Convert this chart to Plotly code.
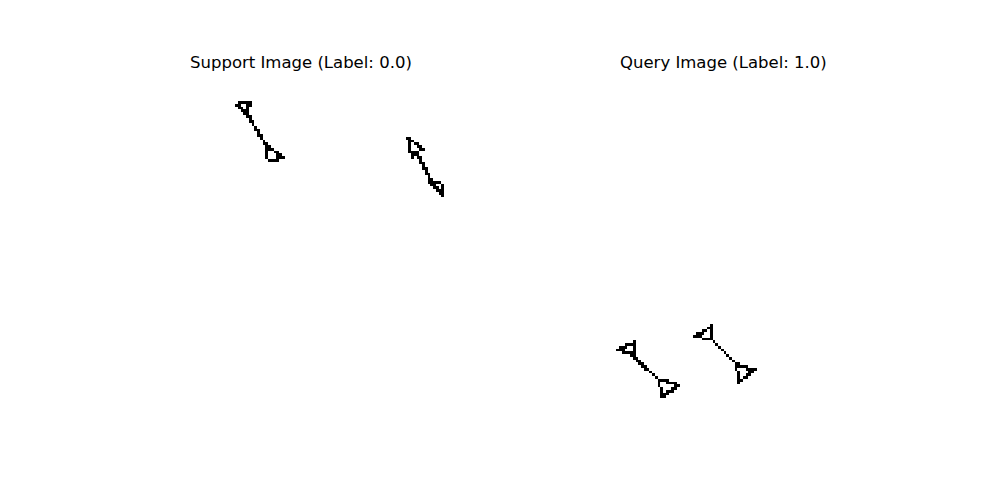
import numpy as np
import plotly.graph_objects as go

IMG_SIZE = 128
titles = ["Support Image (Label: 0.0)", "Query Image (Label: 1.0)"]

# Each arrow: a shaft (two end points) and two hollow triangle heads, in image pixel coords (col, row)
support_shafts = [
    [(44.0, 13.3), (50.9, 24.9)],
    [(105.4, 27.1), (110.8, 37.3)],
]
support_heads = [
    [(39.6, 9.7), (44.7, 8.9), (44.0, 13.3)],
    [(50.9, 24.6), (56.7, 28.9), (51.6, 30.4)],
    [(102.4, 22.0), (107.6, 25.7), (103.9, 28.6)],
    [(109.7, 36.9), (114.5, 38.4), (114.8, 42.7)],
]
query_shafts = [
    [(31.0, 101.3), (40.1, 110.0)],
    [(59.4, 95.4), (68.1, 104.1)],
]
query_heads = [
    [(25.2, 98.6), (30.6, 96.5), (30.6, 100.9)],
    [(39.7, 109.6), (47.0, 111.8), (41.5, 115.8)],
    [(53.2, 94.0), (59.0, 90.5), (59.0, 95.3)],
    [(68.1, 104.1), (74.6, 106.3), (69.2, 110.6)],
]


def draw_segment(img, p, q):
    (x0, y0), (x1, y1) = p, q
    n = int(max(abs(x1 - x0), abs(y1 - y0)) * 4) + 1
    for t in np.linspace(0, 1, n + 1):
        c = int(round(x0 + (x1 - x0) * t))
        r = int(round(y0 + (y1 - y0) * t))
        if 0 <= r < IMG_SIZE and 0 <= c < IMG_SIZE:
            img[r, c] = 1.0


def render(shafts, heads):
    img = np.zeros((IMG_SIZE, IMG_SIZE))
    for p, q in shafts:
        draw_segment(img, p, q)
    for tri in heads:
        for i in range(3):
            draw_segment(img, tri[i], tri[(i + 1) % 3])
    return img


images = [render(support_shafts, support_heads), render(query_shafts, query_heads)]

fig = go.Figure()
x_domains = [[0.125, 0.4773], [0.5477, 0.9]]
y_domain = [0.1428, 0.8472]
for i, img in enumerate(images):
    suffix = "" if i == 0 else str(i + 1)
    fig.add_trace(go.Heatmap(
        z=img, x=np.arange(IMG_SIZE), y=np.arange(IMG_SIZE),
        colorscale=[[0, "#ffffff"], [1, "#000000"]], zmin=0, zmax=1,
        showscale=False, zsmooth=False, hoverinfo="skip",
        xaxis="x" + suffix, yaxis="y" + suffix,
    ))
    fig.update_layout(**{
        "xaxis" + suffix: dict(domain=x_domains[i], range=[-0.5, IMG_SIZE - 0.5], visible=False,
                               anchor="y" + suffix),
        "yaxis" + suffix: dict(domain=y_domain, range=[IMG_SIZE - 0.5, -0.5], visible=False,
                               anchor="x" + suffix),
    })
    fig.add_annotation(
        text=titles[i], x=sum(x_domains[i]) / 2, y=y_domain[1], xref="paper", yref="paper",
        xanchor="center", yanchor="bottom", yshift=2, showarrow=False,
        font=dict(family="DejaVu Sans", size=16.5, color="black"),
    )

fig.update_layout(
    width=1000, height=500, margin=dict(l=0, r=0, t=0, b=0),
    paper_bgcolor="white", plot_bgcolor="white", showlegend=False,
)
fig.write_html("out.html", post_script="document.body.style.margin='0';",
               config={"displayModeBar": False})
